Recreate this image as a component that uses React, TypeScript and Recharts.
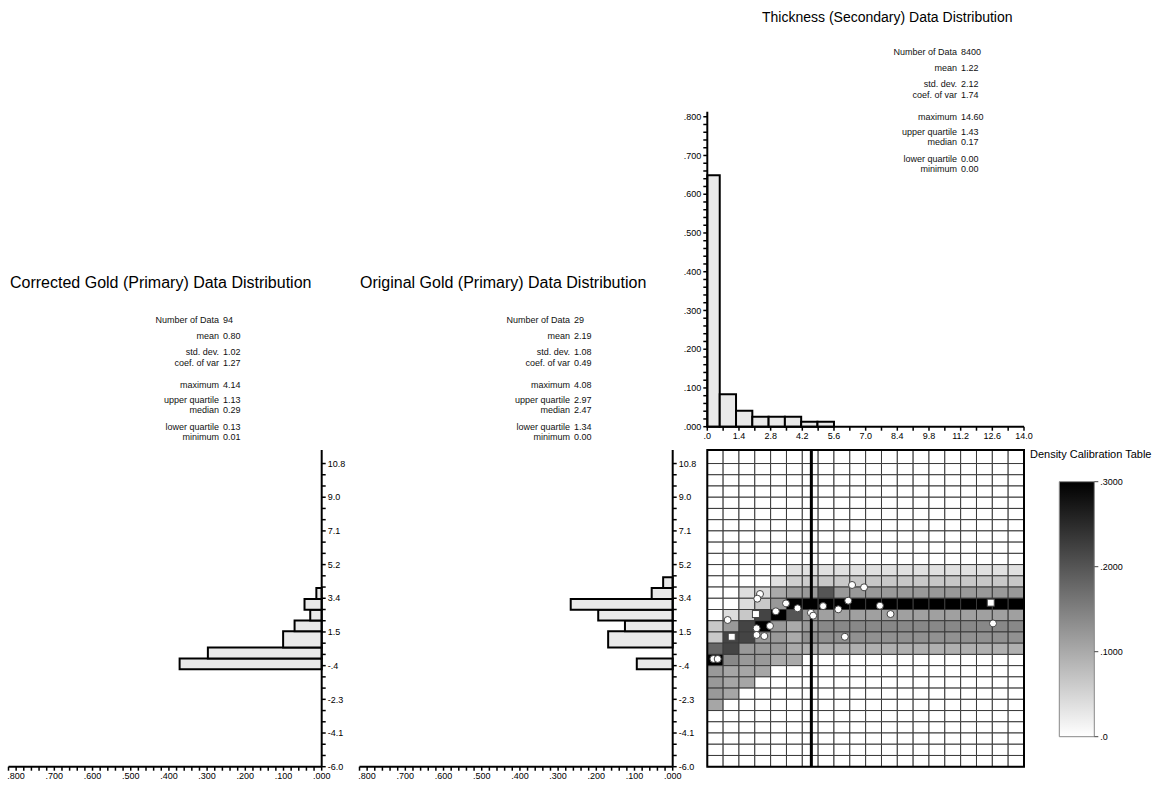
import React from "react";
import { ComposedChart, XAxis, YAxis, ReferenceArea, ReferenceLine, Scatter } from "recharts";

const FONT = "'Liberation Sans', Arial, Helvetica, sans-serif";

// Thickness (secondary) histogram
const THICKNESS_BIN_EDGES = [0, 0.55, 1.27, 1.99, 2.71, 3.43, 4.15, 4.87, 5.6];
const THICKNESS_FREQ = [0.649, 0.084, 0.041, 0.026, 0.026, 0.026, 0.013, 0.013];
const THICKNESS_TICK_LABELS = [".0", "1.4", "2.8", "4.2", "5.6", "7.0", "8.4", "9.8", "11.2", "12.6", "14.0"];

// Gold (primary) histograms, bins listed bottom to top
const GOLD_BIN_EDGES = [-0.6, 0.0, 0.6, 1.5, 2.1, 2.7, 3.3, 3.9, 4.5];
const CORRECTED_FREQ = [0.372, 0.298, 0.101, 0.071, 0.03, 0.045, 0.014, 0];
const ORIGINAL_FREQ = [0.094, 0, 0.169, 0.125, 0.195, 0.267, 0.055, 0.025];
const GOLD_TICK_LABELS = ["-6.0", "-4.1", "-2.3", "-.4", "1.5", "3.4", "5.2", "7.1", "9.0", "10.8"];

// Summary statistics
const STAT_LABELS = [
  "Number of Data",
  "mean",
  "std. dev.",
  "coef. of var",
  "maximum",
  "upper quartile",
  "median",
  "lower quartile",
  "minimum",
];
const THICKNESS_STATS = ["8400", "1.22", "2.12", "1.74", "14.60", "1.43", "0.17", "0.00", "0.00"];
const CORRECTED_STATS = ["94", "0.80", "1.02", "1.27", "4.14", "1.13", "0.29", "0.13", "0.01"];
const ORIGINAL_STATS = ["29", "2.19", "1.08", "0.49", "4.08", "2.97", "2.47", "1.34", "0.00"];

// Density calibration table
const DENSITY_MAX = 3000;
const CALIBRATION_TICKS = [0, 1000, 2000, 3000];

// Bivariate density: 20 thickness classes (columns) x 28 gold classes (rows), top row first
const DENSITY = [
  [0, 0, 0, 0, 0, 0, 0, 0, 0, 0, 0, 0, 0, 0, 0, 0, 0, 0, 0, 0],
  [0, 0, 0, 0, 0, 0, 0, 0, 0, 0, 0, 0, 0, 0, 0, 0, 0, 0, 0, 0],
  [0, 0, 0, 0, 0, 0, 0, 0, 0, 0, 0, 0, 0, 0, 0, 0, 0, 0, 0, 0],
  [0, 0, 0, 0, 0, 0, 0, 0, 0, 0, 0, 0, 0, 0, 0, 0, 0, 0, 0, 0],
  [0, 0, 0, 0, 0, 0, 0, 0, 0, 0, 0, 0, 0, 0, 0, 0, 0, 0, 0, 0],
  [0, 0, 0, 0, 0, 0, 0, 0, 0, 0, 0, 0, 0, 0, 0, 0, 0, 0, 0, 0],
  [0, 0, 0, 0, 0, 0, 0, 0, 0, 0, 0, 0, 0, 0, 0, 0, 0, 0, 0, 0],
  [0, 0, 0, 0, 0, 0, 0, 0, 0, 0, 0, 0, 0, 0, 0, 0, 0, 0, 0, 0],
  [0, 0, 0, 0, 0, 0, 0, 0, 0, 0, 0, 0, 0, 0, 0, 0, 0, 0, 0, 0],
  [0, 0, 0, 0, 0, 0, 0, 0, 0, 0, 0, 0, 0, 0, 0, 0, 0, 0, 0, 0],
  [0, 0, 0, 0, 0, 350, 350, 350, 350, 350, 350, 350, 350, 350, 350, 350, 350, 350, 350, 350],
  [0, 0, 0, 0, 350, 550, 600, 650, 650, 650, 650, 650, 650, 650, 650, 650, 650, 650, 650, 650],
  [0, 0, 400, 450, 1000, 1150, 1200, 2000, 1200, 1200, 1200, 1200, 1200, 1200, 1200, 1200, 1200, 1200, 1200, 1200],
  [0, 0, 400, 650, 1200, 3000, 3000, 3000, 3000, 3000, 3000, 3000, 3000, 3000, 3000, 3000, 3000, 3000, 3000, 3000],
  [0, 400, 650, 2200, 3000, 2000, 1200, 1120, 1120, 1120, 1120, 1120, 1120, 1120, 1120, 1120, 1120, 1120, 1120, 1120],
  [650, 1200, 2200, 3000, 1200, 1000, 1200, 1400, 1400, 1400, 1400, 1400, 1400, 1400, 1400, 1400, 1400, 1400, 1400, 1400],
  [650, 2200, 2200, 1200, 1200, 1000, 1300, 1300, 1300, 1300, 1300, 1300, 1300, 1300, 1300, 1300, 1300, 1300, 1300, 1300],
  [1800, 2200, 1200, 1200, 1200, 1000, 930, 930, 930, 930, 930, 930, 930, 930, 930, 930, 930, 930, 930, 930],
  [3000, 1400, 1200, 1200, 1000, 1000, 0, 0, 0, 0, 0, 0, 0, 0, 0, 0, 0, 0, 0, 0],
  [1200, 1050, 1050, 1050, 0, 0, 0, 0, 0, 0, 0, 0, 0, 0, 0, 0, 0, 0, 0, 0],
  [1200, 1050, 1050, 0, 0, 0, 0, 0, 0, 0, 0, 0, 0, 0, 0, 0, 0, 0, 0, 0],
  [1200, 1050, 0, 0, 0, 0, 0, 0, 0, 0, 0, 0, 0, 0, 0, 0, 0, 0, 0, 0],
  [1050, 0, 0, 0, 0, 0, 0, 0, 0, 0, 0, 0, 0, 0, 0, 0, 0, 0, 0, 0],
  [0, 0, 0, 0, 0, 0, 0, 0, 0, 0, 0, 0, 0, 0, 0, 0, 0, 0, 0, 0],
  [0, 0, 0, 0, 0, 0, 0, 0, 0, 0, 0, 0, 0, 0, 0, 0, 0, 0, 0, 0],
  [0, 0, 0, 0, 0, 0, 0, 0, 0, 0, 0, 0, 0, 0, 0, 0, 0, 0, 0, 0],
  [0, 0, 0, 0, 0, 0, 0, 0, 0, 0, 0, 0, 0, 0, 0, 0, 0, 0, 0, 0],
  [0, 0, 0, 0, 0, 0, 0, 0, 0, 0, 0, 0, 0, 0, 0, 0, 0, 0, 0, 0],
];

// Paired samples (thickness, gold)
const CIRCLE_THICKNESS = [2.33, 2.21, 0.9, 3.03, 3.48, 3.99, 4.58, 4.68, 5.12, 5.79, 6.23, 6.4, 6.93, 7.63, 8.1, 6.08, 12.63, 2.77, 2.18, 2.18, 2.52, 0.27, 0.46];
const CIRCLE_GOLD = [3.57, 3.31, 2.13, 2.61, 3.05, 2.78, 2.53, 2.37, 2.9, 2.72, 3.2, 4.07, 3.94, 2.92, 2.46, 1.2, 1.94, 1.8, 1.67, 1.3, 1.24, -0.03, -0.03];
const SQUARE_THICKNESS = [2.15, 12.53, 1.08];
const SQUARE_GOLD = [2.46, 3.09, 1.2];
const THICKNESS_CUTOFF = 4.6;

// Axis geometry
const THICK_MAX = 14;
const THICK_STEP = 0.7;
const THICK_TICKS = Array.from({ length: 21 }, (_, k) => +(k * THICK_STEP).toFixed(2));
const GOLD_MIN = -6.0;
const GOLD_TOP_TICK = 10.8;
const GOLD_MAX = 11.55;
const GOLD_STEP = (GOLD_TOP_TICK - GOLD_MIN) / 27;
const GOLD_TICKS = Array.from({ length: 28 }, (_, k) => GOLD_MIN + k * GOLD_STEP);
const GOLD_ROW_EDGES = [...GOLD_TICKS, GOLD_MAX];
const FREQ_TOP_MAX = 0.813;
const FREQ_TICKS_TOP = Array.from({ length: 41 }, (_, k) => k / 50);
const FREQ_TICKS_SIDE = Array.from({ length: 42 }, (_, k) => k / 50);

const AXIS_LINE = { stroke: "#000", strokeWidth: 2 };
const TICK_LINE = { stroke: "#000", strokeWidth: 1.5 };
const TICK_STYLE = { fontSize: 9, fill: "#000", fontFamily: FONT };
const BAR_FILL = "#e9e9e9";

const STAT_ROW_OFFSETS = [0, 16, 32, 43, 64.5, 80, 90, 107, 117];

const freqLabel = (v: number, i: number) => (i % 5 === 0 ? (i / 50).toFixed(3).replace(/^0/, "") : "");
const goldLabel = (_v: number, i: number) => (i % 3 === 0 ? GOLD_TICK_LABELS[i / 3] : "");

const densityGray = (d: number) => {
  const g = Math.round(255 * (1 - Math.min(d, DENSITY_MAX) / DENSITY_MAX));
  return `rgb(${g},${g},${g})`;
};

function Title({ text, x, y, size }: { text: string; x: number; y: number; size: number }) {
  return (
    <div style={{ position: "absolute", left: x, top: y, fontSize: size, lineHeight: 1, whiteSpace: "nowrap" }}>
      {text}
    </div>
  );
}

function StatsBlock({ x, y, values }: { x: number; y: number; values: string[] }) {
  return (
    <>
      {STAT_LABELS.map((label, i) => {
        const top = y + STAT_ROW_OFFSETS[i] - 5;
        return (
          <React.Fragment key={label}>
            <div
              style={{
                position: "absolute",
                left: x - 150,
                width: 150,
                top,
                textAlign: "right",
                fontSize: 9,
                lineHeight: "10px",
                whiteSpace: "nowrap",
                color: "#111",
              }}
            >
              {label}
            </div>
            <div
              style={{
                position: "absolute",
                left: x + 4,
                top,
                fontSize: 9,
                lineHeight: "10px",
                whiteSpace: "nowrap",
                color: "#111",
              }}
            >
              {values[i]}
            </div>
          </React.Fragment>
        );
      })}
    </>
  );
}

function ThicknessHistogram() {
  const bins = THICKNESS_FREQ.map((f, i) => ({ lo: THICKNESS_BIN_EDGES[i], hi: THICKNESS_BIN_EDGES[i + 1], f }));
  return (
    <div style={{ position: "absolute", left: 650, top: 100 }}>
      <ComposedChart width={390} height={360} margin={{ top: 11.7, right: 16, bottom: 3.3, left: 0 }} data={bins}>
        <XAxis
          type="number"
          dataKey="lo"
          domain={[0, THICK_MAX]}
          allowDataOverflow
          ticks={THICK_TICKS}
          interval={0}
          tickFormatter={(_v: number, i: number) => (i % 2 === 0 ? THICKNESS_TICK_LABELS[i / 2] : "")}
          height={30}
          tickSize={4}
          axisLine={AXIS_LINE}
          tickLine={TICK_LINE}
          tick={TICK_STYLE}
        />
        <YAxis
          type="number"
          domain={[0, FREQ_TOP_MAX]}
          allowDataOverflow
          ticks={FREQ_TICKS_TOP}
          interval={0}
          tickFormatter={freqLabel}
          width={57.3}
          tickSize={4}
          axisLine={AXIS_LINE}
          tickLine={TICK_LINE}
          tick={TICK_STYLE}
        />
        {bins.map((b) => (
          <ReferenceArea
            key={b.lo}
            x1={b.lo}
            x2={b.hi}
            y1={0}
            y2={b.f}
            fill={BAR_FILL}
            fillOpacity={1}
            stroke="#000"
            strokeWidth={2}
          />
        ))}
      </ComposedChart>
    </div>
  );
}

function GoldHistogram({ left, marginLeft, freq }: { left: number; marginLeft: number; freq: number[] }) {
  const bins = freq
    .map((f, i) => ({ lo: GOLD_BIN_EDGES[i], hi: GOLD_BIN_EDGES[i + 1], f }))
    .filter((b) => b.f > 0);
  return (
    <div style={{ position: "absolute", left, top: 440 }}>
      <ComposedChart
        width={360 - (8.5 - marginLeft)}
        height={350}
        margin={{ top: 10, right: 0, bottom: 0, left: marginLeft }}
        data={bins}
      >
        <XAxis
          type="number"
          dataKey="f"
          domain={[0, 0.82]}
          allowDataOverflow
          reversed
          ticks={FREQ_TICKS_SIDE}
          interval={0}
          tickFormatter={freqLabel}
          height={23.3}
          tickSize={4}
          axisLine={AXIS_LINE}
          tickLine={TICK_LINE}
          tick={TICK_STYLE}
        />
        <YAxis
          type="number"
          orientation="right"
          domain={[GOLD_MIN, GOLD_MAX]}
          allowDataOverflow
          ticks={GOLD_TICKS}
          interval={0}
          tickFormatter={goldLabel}
          width={38.3}
          tickSize={4}
          axisLine={AXIS_LINE}
          tickLine={TICK_LINE}
          tick={TICK_STYLE}
        />
        {bins.map((b) => (
          <ReferenceArea
            key={b.lo}
            x1={0}
            x2={b.f}
            y1={b.lo}
            y2={b.hi}
            fill={BAR_FILL}
            fillOpacity={1}
            stroke="#000"
            strokeWidth={2}
          />
        ))}
      </ComposedChart>
    </div>
  );
}

function DensityGrid() {
  const cells: { x1: number; x2: number; y1: number; y2: number; d: number }[] = [];
  DENSITY.forEach((row, r) => {
    const k = DENSITY.length - 1 - r;
    row.forEach((d, c) => {
      cells.push({
        x1: c * THICK_STEP,
        x2: (c + 1) * THICK_STEP,
        y1: GOLD_ROW_EDGES[k],
        y2: GOLD_ROW_EDGES[k + 1],
        d,
      });
    });
  });
  const circles = CIRCLE_THICKNESS.map((x, i) => ({ x, y: CIRCLE_GOLD[i] }));
  const squares = SQUARE_THICKNESS.map((x, i) => ({ x, y: SQUARE_GOLD[i] }));

  return (
    <div style={{ position: "absolute", left: 700, top: 440 }}>
      <ComposedChart width={330} height={330} margin={{ top: 10, right: 6, bottom: 3.3, left: 7.3 }}>
        <XAxis type="number" dataKey="x" domain={[0, THICK_MAX]} allowDataOverflow hide />
        <YAxis type="number" dataKey="y" domain={[GOLD_MIN, GOLD_MAX]} allowDataOverflow hide />
        {cells.map((c, i) => (
          <ReferenceArea
            key={i}
            x1={c.x1}
            x2={c.x2}
            y1={c.y1}
            y2={c.y2}
            fill={densityGray(c.d)}
            fillOpacity={1}
            stroke="#3a3a3a"
            strokeWidth={1}
          />
        ))}
        <ReferenceArea
          x1={0}
          x2={THICK_MAX}
          y1={GOLD_MIN}
          y2={GOLD_MAX}
          fill="none"
          fillOpacity={0}
          stroke="#000"
          strokeWidth={2}
        />
        <ReferenceLine x={THICKNESS_CUTOFF} stroke="#000" strokeWidth={3} />
        <Scatter
          data={circles}
          isAnimationActive={false}
          shape={(p: any) => <circle cx={p.cx} cy={p.cy} r={3.5} fill="#fff" stroke="#444" strokeWidth={1} />}
        />
        <Scatter
          data={squares}
          isAnimationActive={false}
          shape={(p: any) => (
            <rect x={p.cx - 3.5} y={p.cy - 3.5} width={7} height={7} fill="#fff" stroke="#444" strokeWidth={1} />
          )}
        />
      </ComposedChart>
    </div>
  );
}

function CalibrationBar() {
  const stops = CALIBRATION_TICKS.map((v) => ({ x: 0.5, v }));
  return (
    <div style={{ position: "absolute", left: 1040, top: 470 }}>
      <ComposedChart
        width={110}
        height={280}
        margin={{ top: 11.7, right: 0, bottom: 13.3, left: 19.3 }}
        data={stops}
      >
        <defs>
          <linearGradient id="densityRamp" x1="0" y1="0" x2="0" y2="1">
            <stop offset="0%" stopColor="#000" />
            <stop offset="100%" stopColor="#fff" />
          </linearGradient>
        </defs>
        <XAxis type="number" dataKey="x" domain={[0, 1]} allowDataOverflow hide />
        <YAxis
          type="number"
          dataKey="v"
          orientation="right"
          domain={[0, DENSITY_MAX]}
          allowDataOverflow
          ticks={CALIBRATION_TICKS}
          interval={0}
          tickFormatter={(v: number) => `.${v}`}
          width={55.7}
          tickSize={4}
          axisLine={false}
          tickLine={{ stroke: "#444", strokeWidth: 1 }}
          tick={TICK_STYLE}
        />
        <ReferenceArea
          x1={0}
          x2={1}
          y1={0}
          y2={DENSITY_MAX}
          fill="url(#densityRamp)"
          fillOpacity={1}
          stroke="#888"
          strokeWidth={1}
        />
        <Scatter data={stops} dataKey="v" isAnimationActive={false} shape={() => <g />} />
      </ComposedChart>
    </div>
  );
}

export default function App() {
  return (
    <div
      style={{
        position: "absolute",
        left: 0,
        top: 0,
        width: 1159,
        height: 790,
        background: "#fff",
        fontFamily: FONT,
        color: "#000",
        overflow: "hidden",
      }}
    >
      <Title text="Thickness (Secondary) Data Distribution" x={762} y={10} size={14} />
      <Title text="Corrected Gold (Primary) Data Distribution" x={10} y={275} size={16} />
      <Title text="Original Gold (Primary) Data Distribution" x={360} y={275} size={16} />
      <Title text="Density Calibration Table" x={1030} y={449} size={11} />

      <StatsBlock x={957} y={52} values={THICKNESS_STATS} />
      <StatsBlock x={219} y={320} values={CORRECTED_STATS} />
      <StatsBlock x={570} y={320} values={ORIGINAL_STATS} />

      <ThicknessHistogram />
      <GoldHistogram left={0} marginLeft={8.5} freq={CORRECTED_FREQ} />
      <GoldHistogram left={355} marginLeft={4.5} freq={ORIGINAL_FREQ} />
      <DensityGrid />
      <CalibrationBar />
    </div>
  );
}
